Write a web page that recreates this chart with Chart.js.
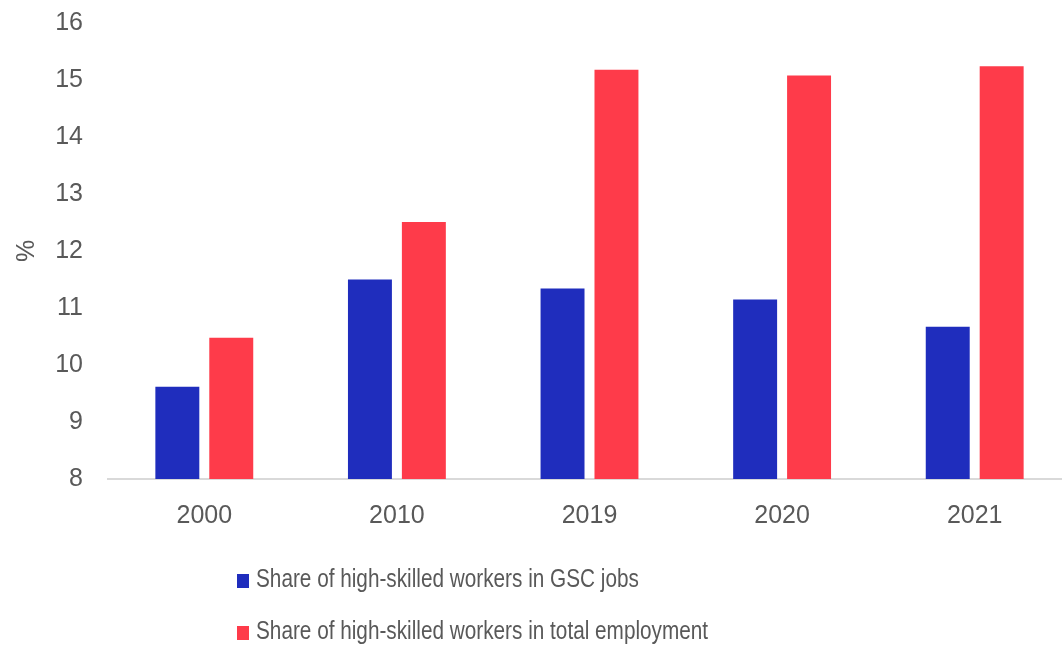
<!DOCTYPE html>
<html>
<head>
<meta charset="UTF-8">
<title>Share of high-skilled workers</title>
<script src="https://cdn.jsdelivr.net/npm/chart.js@4.4.1/dist/chart.umd.min.js"></script>
<style>
body {
    margin: 0;
    background: #ffffff;
    overflow: hidden;
}
#wrap {
    position: relative;
    width: 1062px;
    height: 648px;
    overflow: hidden;
}
#legend {
    position: absolute;
    left: 237px;
    top: 558px;
    font-family: "Liberation Sans", sans-serif;
    font-size: 25px;
    color: #595959;
}
.item {
    height: 52px;
    line-height: 40px;
    white-space: nowrap;
}
.box {
    display: inline-block;
    width: 12px;
    height: 14px;
    margin-right: 7px;
    vertical-align: -1px;
}
.txt {
    display: inline-block;
    transform: scaleX(0.83);
    transform-origin: left center;
}
</style>
</head>
<body>
<div id="wrap">
<canvas id="myChart" width="1071" height="648"></canvas>
<div id="legend"></div>
</div>
<script>
// values
var years = ["2000", "2010", "2019", "2020", "2021"];
var gscJobs = [9.62, 11.50, 11.34, 11.15, 10.67];
var totalEmployment = [10.48, 12.51, 15.18, 15.08, 15.24];
var seriesNames = ["Share of high-skilled workers in GSC jobs",
                   "Share of high-skilled workers in total employment"];
var palette = ["#1f2dbd", "#fe3b4a"];
var yTicks = [8, 9, 10, 11, 12, 13, 14, 15, 16];

var datasets = [
    {"label": seriesNames[0], "data": gscJobs, "backgroundColor": palette[0]},
    {"label": seriesNames[1], "data": totalEmployment, "backgroundColor": palette[1]}
];

// simple legend, one series per line
var legend = document.getElementById("legend");
for (var i = 0; i < datasets.length; i++) {
    var row = document.createElement("div");
    row.className = "item";
    var sw = document.createElement("span");
    sw.className = "box";
    sw.style.background = datasets[i].backgroundColor;
    row.appendChild(sw);
    var txt = document.createElement("span");
    txt.className = "txt";
    txt.textContent = datasets[i].label;
    row.appendChild(txt);
    legend.appendChild(row);
}

Chart.defaults.font.family = "'Liberation Sans', Arial, sans-serif";
Chart.defaults.font.size = 25;
Chart.defaults.color = "#595959";

new Chart(document.getElementById("myChart"), {
    "type": "bar",
    "data": {"labels": years, "datasets": datasets},
    "options": {
        "responsive": false,
        "animation": false,
        "datasets": {"bar": {"categoryPercentage": 0.56, "barPercentage": 0.815}},
        "layout": {"padding": {"top": 23, "right": 0, "bottom": 109, "left": 0}},
        "plugins": {"legend": {"display": false}, "tooltip": {"enabled": false}},
        "scales": {
            "x": {
                "grid": {"display": false, "drawTicks": false},
                "border": {"display": true, "color": "#d9d9d9", "width": 2},
                "ticks": {"padding": 22},
                "afterFit": function(scale) { scale.height = 60; }
            },
            "y": {
                "min": 8,
                "max": 16,
                "grid": {"display": false, "drawTicks": false},
                "border": {"display": false},
                "afterBuildTicks": function(scale) {
                    scale.ticks = yTicks.map(function(v) { return {"value": v}; });
                },
                "ticks": {"padding": 25},
                "title": {"display": true, "text": "%", "padding": {"top": 12, "bottom": 0}},
                "afterFit": function(scale) {
                    scale.width = 108;
                    // tick padding would otherwise push the plot top down
                    scale.paddingTop = 0;
                    scale.paddingBottom = 0;
                }
            }
        }
    }
});
</script>
</body>
</html>
